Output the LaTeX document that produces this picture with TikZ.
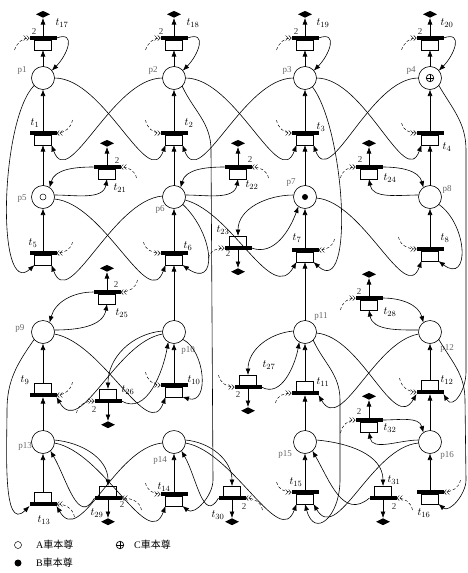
\documentclass[tikz,border=0pt]{standalone}
\usepackage{fontspec}
\setmainfont{Liberation Serif}
\newfontfamily\cjk{Noto Sans CJK TC}
\usepackage{tikz}
\usetikzlibrary{positioning,arrows.meta,calc,shapes.geometric}
\tikzset{
    every node/.style={font=\fontsize{9}{10}\selectfont},
    place/.style={circle,draw,fill=white,minimum size=23pt,inner sep=0pt,outer sep=0pt,line width=0.6pt},
    trbar/.style={rectangle,fill=black,minimum width=27pt,minimum height=4pt,inner sep=0pt,outer sep=0pt},
    trbox/.style={rectangle,draw,fill=white,minimum width=17pt,minimum height=10pt,inner sep=0pt,outer sep=0pt,line width=0.6pt},
    sink/.style={diamond,fill=black,aspect=2,minimum width=14pt,minimum height=7pt,inner sep=0pt},
    ctok/.style={circle,draw,minimum size=7.5pt,inner sep=0pt,line width=0.7pt,
        path picture={\draw[line width=0.7pt] (path picture bounding box.north) -- (path picture bounding box.south)
            (path picture bounding box.west) -- (path picture bounding box.east);}},
    plab/.style={text=black!60,inner sep=0pt},
    tlab/.style={inner sep=0pt,font=\fontsize{11}{12}\selectfont},
    wlab/.style={inner sep=0pt,text=black!80},
    flow/.style={-{Latex[length=6.5pt,width=5pt]},line width=0.6pt},
    ctrl/.style={densely dashed,line width=0.45pt,-{Straight Barb[length=2.5pt,width=5pt]Straight Barb[length=2.5pt,width=5pt]}},
    legtext/.style={anchor=west,inner sep=0pt,font=\fontsize{10}{11}\selectfont}
}
\newcommand{\trans}[3]{\node[trbar] (#1) at (#2) {};
    \node[trbox,#3=0pt of #1] (#1b) {};}
\newcommand{\ctrlin}[5]{\coordinate (#1c) at ($(#1.#2)+(#3)$);
    \draw[ctrl] (#1c) to[out=#4,in=#5] (#1.#2);}

\begin{document}
\begin{tikzpicture}[x=1pt,y=1pt]
    \useasboundingbox (0,0) rectangle (468,-573);
    % places
    \node[place] (p1) at (43,-78) {};
    \node[place] (p2) at (174,-78) {};
    \node[place] (p3) at (305,-78) {};
    \node[place] (p4) at (430,-78) {};
    \node[place] (p5) at (43,-197) {};
    \node[place] (p6) at (174,-197) {};
    \node[place] (p7) at (305,-197) {};
    \node[place] (p8) at (430,-197) {};
    \node[place] (p9) at (43,-332) {};
    \node[place] (p10) at (174,-332) {};
    \node[place] (p11) at (305,-332) {};
    \node[place] (p12) at (430,-332) {};
    \node[place] (p13) at (43,-442) {};
    \node[place] (p14) at (174,-442) {};
    \node[place] (p15) at (305,-442) {};
    \node[place] (p16) at (430,-442) {};
    \node[circle,draw,minimum size=6pt,inner sep=0pt,line width=0.5pt] (tokA) at (p5) {};
    \node[circle,fill,minimum size=6pt,inner sep=0pt] (tokB) at (p7) {};
    \node[ctok] (tokC) at (p4) {};
    % transitions
    \trans{t17}{43,-38}{below}
    \trans{t18}{174,-38}{below}
    \trans{t19}{305,-38}{below}
    \trans{t20}{430,-38}{below}
    \trans{t1}{43,-133}{below}
    \trans{t2}{174,-133}{below}
    \trans{t3}{305,-133}{below}
    \trans{t4}{430,-133}{below}
    \trans{t21}{107,-167}{below}
    \trans{t22}{238,-167}{below}
    \trans{t24}{369,-167}{below}
    \trans{t23}{238,-248}{above}
    \trans{t5}{43,-253}{below}
    \trans{t6}{174,-253}{below}
    \trans{t7}{305,-250}{below}
    \trans{t8}{430,-249}{below}
    \trans{t25}{107,-292}{below}
    \trans{t28}{369,-298}{below}
    \trans{t9}{43,-395}{above}
    \trans{t10}{174,-385}{below}
    \trans{t26}{108,-401}{above}
    \trans{t27}{248,-387}{above}
    \trans{t11}{305,-393}{above}
    \trans{t12}{430,-392}{above}
    \trans{t32}{369,-420}{below}
    \trans{t13}{43,-504}{above}
    \trans{t29}{108,-498}{above}
    \trans{t14}{174,-494}{below}
    \trans{t30}{232,-498}{above}
    \trans{t15}{305,-492}{below}
    \trans{t31}{383,-498}{above}
    \trans{t16}{430,-492}{below}
    % sinks
    \node[sink,above=18pt of t17] (s17) {};
    \node[sink,above=18pt of t18] (s18) {};
    \node[sink,above=18pt of t19] (s19) {};
    \node[sink,above=18pt of t20] (s20) {};
    \node[sink,above=18pt of t21] (s21) {};
    \node[sink,above=18pt of t22] (s22) {};
    \node[sink,above=18pt of t24] (s24) {};
    \node[sink,below=18pt of t23] (s23) {};
    \node[sink,above=18pt of t25] (s25) {};
    \node[sink,above=18pt of t28] (s28) {};
    \node[sink,below=18pt of t26] (s26) {};
    \node[sink,below=18pt of t27] (s27) {};
    \node[sink,above=18pt of t32] (s32) {};
    \node[sink,below=18pt of t29] (s29) {};
    \node[sink,below=18pt of t30] (s30) {};
    \node[sink,below=18pt of t31] (s31) {};
    % labels
    \node[plab] (n1) at (22,-70) {p1};
    \node[plab] (n2) at (153,-70) {p2};
    \node[plab] (n3) at (287,-70) {p3};
    \node[plab] (n4) at (411,-70) {p4};
    \node[plab] (n5) at (22,-199) {p5};
    \node[plab] (n6) at (160,-209) {p6};
    \node[plab] (n7) at (291,-183) {p7};
    \node[plab] (n8) at (447,-189) {p8};
    \node[plab] (n9) at (20,-328) {p9};
    \node[plab] (n10) at (188,-350) {p10};
    \node[plab] (n11) at (321,-316) {p11};
    \node[plab] (n12) at (447,-348) {p12};
    \node[plab] (n13) at (25,-446) {p13};
    \node[plab] (n14) at (160,-460) {p14};
    \node[plab] (n15) at (285,-454) {p15};
    \node[plab] (n16) at (447,-455) {p16};
    \node[tlab] (l17) at (62,-23) {$t_{17}$};
    \node[tlab] (l18) at (193,-23) {$t_{18}$};
    \node[tlab] (l19) at (323,-23) {$t_{19}$};
    \node[tlab] (l20) at (447,-23) {$t_{20}$};
    \node[tlab] (l1) at (35,-123) {$t_{1}$};
    \node[tlab] (l2) at (189,-123) {$t_{2}$};
    \node[tlab] (l3) at (321,-127) {$t_{3}$};
    \node[tlab] (l4) at (447,-147) {$t_{4}$};
    \node[tlab] (l21) at (120,-188) {$t_{21}$};
    \node[tlab] (l22) at (252,-185) {$t_{22}$};
    \node[tlab] (l23) at (223,-230) {$t_{23}$};
    \node[tlab] (l24) at (390,-178) {$t_{24}$};
    \node[tlab] (l5) at (33,-243) {$t_{5}$};
    \node[tlab] (l6) at (188,-246) {$t_{6}$};
    \node[tlab] (l7) at (297,-238) {$t_{7}$};
    \node[tlab] (l8) at (445,-238) {$t_{8}$};
    \node[tlab] (l25) at (122,-313) {$t_{25}$};
    \node[tlab] (l28) at (390,-312) {$t_{28}$};
    \node[tlab] (l9) at (25,-380) {$t_{9}$};
    \node[tlab] (l10) at (194,-380) {$t_{10}$};
    \node[tlab] (l26) at (128,-390) {$t_{26}$};
    \node[tlab] (l27) at (269,-365) {$t_{27}$};
    \node[tlab] (l11) at (323,-382) {$t_{11}$};
    \node[tlab] (l12) at (447,-380) {$t_{12}$};
    \node[tlab] (l32) at (390,-428) {$t_{32}$};
    \node[tlab] (l13) at (44,-520) {$t_{13}$};
    \node[tlab] (l29) at (97,-513) {$t_{29}$};
    \node[tlab] (l14) at (164,-487) {$t_{14}$};
    \node[tlab] (l30) at (218,-515) {$t_{30}$};
    \node[tlab] (l15) at (296,-482) {$t_{15}$};
    \node[tlab] (l31) at (394,-480) {$t_{31}$};
    \node[tlab] (l16) at (424,-513) {$t_{16}$};
    \node[wlab] (w17) at (34,-32) {2};
    \node[wlab] (w18) at (161,-32) {2};
    \node[wlab] (w19) at (296,-32) {2};
    \node[wlab] (w20) at (420,-32) {2};
    \node[wlab] (w21) at (117,-161) {2};
    \node[wlab] (w22) at (250,-160) {2};
    \node[wlab] (w24) at (360,-160) {2};
    \node[wlab] (w23) at (228,-254) {2};
    \node[wlab] (w25) at (116,-285) {2};
    \node[wlab] (w28) at (359,-292) {2};
    \node[wlab] (w26) at (94,-410) {2};
    \node[wlab] (w27) at (238,-395) {2};
    \node[wlab] (w32) at (359,-412) {2};
    \node[wlab] (w29) at (122,-505) {2};
    \node[wlab] (w30) at (244,-507) {2};
    \node[wlab] (w31) at (394,-507) {2};
    % top row
    \draw[flow] (p1) -- (t17b);
    \draw[flow] (p2) -- (t18b);
    \draw[flow] (p3) -- (t19b);
    \draw[flow] (p4) -- (t20b);
    \draw[flow] (t17) -- (s17);
    \draw[flow] (t18) -- (s18);
    \draw[flow] (t19) -- (s19);
    \draw[flow] (t20) -- (s20);
    \draw[flow] (t17.east) to[out=20,in=45,looseness=1.7] (p1.40);
    \draw[flow] (t18.east) to[out=20,in=45,looseness=1.7] (p2.40);
    \draw[flow] (t19.east) to[out=20,in=45,looseness=1.7] (p3.40);
    \draw[flow] (t20.east) to[out=20,in=45,looseness=1.7] (p4.40);
    % t1..t4
    \draw[flow] (t1) -- (p1);
    \draw[flow] (t2) -- (p2);
    \draw[flow] (t3) -- (p3);
    \draw[flow] (t4) -- (p4);
    \draw[flow] (p5) -- (t1b);
    \draw[flow] (p6) -- (t2b);
    \draw[flow] (p7) -- (t3b);
    \draw[flow] (p8) -- (t4b);
    \draw[flow] (p1.east) to[out=0,in=-110] (t2b.south west);
    \draw[flow] (p2.west) to[out=180,in=-70] (t1b.south east);
    \draw[flow] (p2.east) to[out=0,in=-110] (t3b.south west);
    \draw[flow] (p3.west) to[out=180,in=-70] (t2b.south east);
    \draw[flow] (p3.east) to[out=0,in=-110] (t4b.south west);
    \draw[flow] (p4.west) to[out=180,in=-70] (t3b.south east);
    % long side lines
    \draw[flow] (p1.220) .. controls (0,-120) and (-4,-300) .. (t5b.south west);
    \draw[flow] (p2.-45) to[out=-65,in=90] (211,-150) -- (213,-480) to[out=-90,in=-40] (t14b.south east);
    \draw[flow] (p3.-50) .. controls (345,-130) and (355,-300) .. (t7b.south east);
    \draw[flow] (p4.-40) to[out=-60,in=90] (466,-150) -- (466,-372) to[out=-90,in=-60,looseness=1.5] (t12.south east);
    \draw[flow] (p9.220) to[out=235,in=90] (7,-410) to[out=-90,in=-135] (t13.south west);
    \draw[flow] (p11.-45) to[out=-65,in=90] (340,-400) -- (340,-480) to[out=-90,in=-75,looseness=2.2] (t15b.south);
    \draw[flow] (p12.-40) to[out=-60,in=90] (465,-400) -- (466,-480) to[out=-90,in=-40] (t16b.south east);
    % t21..t24
    \draw[flow] (t21.west) to[out=180,in=75] (p5.55);
    \draw[flow] (p5.10) to[out=0,in=-100] (t21b.south);
    \draw[flow] (t21) -- (s21);
    \draw[flow] (t22.west) to[out=180,in=75] (p6.55);
    \draw[flow] (p6.10) to[out=0,in=-100] (t22b.south);
    \draw[flow] (t22) -- (s22);
    \draw[flow] (t24.east) to[out=0,in=105] (p8.125);
    \draw[flow] (p8.170) to[out=180,in=-80] (t24b.south);
    \draw[flow] (t24) -- (s24);
    \draw[flow] (p7.170) to[out=180,in=90] (t23b.north);
    \draw[flow] (t23.east) to[out=-20,in=-110] (p7.235);
    \draw[flow] (t23) -- (s23);
    % t5..t8
    \draw[flow] (t5) -- (p5);
    \draw[flow] (t6) -- (p6);
    \draw[flow] (t7) -- (p7);
    \draw[flow] (t8) -- (p8);
    \draw[flow] (p6.175) to[out=185,in=-70] (t5b.south east);
    \draw[flow] (p5.-10) to[out=-5,in=-110] (t6b.south west);
    \draw[flow] (p6.-40) .. controls (215,-235) and (218,-290) .. (t6b.south east);
    \draw[flow] (p10) -- (t6b);
    \draw[flow] (p6.-15) to[out=-15,in=-120] (t7b.south west);
    \draw[flow] (p11) -- (t7b);
    \draw[flow] (p7.-5) to[out=-5,in=-110] (t8b.south west);
    \draw[flow] (p8.-40) .. controls (468,-225) and (470,-285) .. (t8b.south east);
    % t25, t28
    \draw[flow] (t25.west) to[out=180,in=75] (p9.55);
    \draw[flow] (p9.10) to[out=0,in=-100] (t25b.south);
    \draw[flow] (t25) -- (s25);
    \draw[flow] (t28.east) to[out=0,in=105] (p12.125);
    \draw[flow] (p12.170) to[out=180,in=-80] (t28b.south);
    \draw[flow] (t28) -- (s28);
    % t9..t12, t26, t27
    \draw[flow] (t9b) -- (p9);
    \draw[flow] (t10) -- (p10);
    \draw[flow] (t11b) -- (p11);
    \draw[flow] (t12b) -- (p12);
    \draw[flow] (p13) -- (t9);
    \draw[flow] (p15) -- (t11);
    \draw[flow] (p16) -- (t12);
    \draw[flow] (p9.-10) to[out=-10,in=-110] (t10b.south west);
    \draw[flow] (p10.190) to[out=190,in=-60] (t9.south east);
    \draw[flow] (p10.175) to[out=185,in=90] (t26b.north);
    \draw[flow] (t26.east) to[out=-30,in=-100] (p10.240);
    \draw[flow] (t26) -- (s26);
    \draw[flow] (p10.-40) .. controls (205,-350) and (210,-405) .. (t10b.south east);
    \draw[flow] (p11.175) to[out=185,in=90] (t27b.north);
    \draw[flow] (t27.east) to[out=-30,in=-100] (p11.240);
    \draw[flow] (t27) -- (s27);
    \draw[flow] (p11.-5) to[out=-5,in=-120] (t12.south west);
    \draw[flow] (p12.190) to[out=190,in=-60] (t11.south east);
    % t32, bottom row
    \draw[flow] (t32.east) to[out=0,in=105] (p16.125);
    \draw[flow] (p16.170) to[out=180,in=-80] (t32b.south);
    \draw[flow] (t32) -- (s32);
    \draw[flow] (t13b) -- (p13);
    \draw[flow] (t14) -- (p14);
    \draw[flow] (t15) -- (p15);
    \draw[flow] (t16) -- (p16);
    \draw[flow] (p13.10) to[out=-5,in=90] (t29b.north);
    \draw[flow] (t29.west) to[out=-120,in=-60,looseness=1.3] (p13.-50);
    \draw[flow] (t29) -- (s29);
    \draw[flow] (p13.-5) to[out=-10,in=-110] (t14b.south west);
    \draw[flow] (p14.185) to[out=185,in=-60] (t13.south east);
    \draw[flow] (p14.10) to[out=-5,in=90] (t30b.north);
    \draw[flow] (t30.west) to[out=-120,in=-60,looseness=1.3] (p14.-50);
    \draw[flow] (t30) -- (s30);
    \draw[flow] (p14.-5) to[out=-10,in=-110] (t15b.south west);
    \draw[flow] (p15.10) to[out=-5,in=90] (t31b.north);
    \draw[flow] (t31.west) to[out=-140,in=-60,looseness=1.2] (p15.-50);
    \draw[flow] (t31) -- (s31);
    \draw[flow] (p16.185) to[out=185,in=-60] (t15b.south east);
    % control inputs
    \ctrlin{t17}{west}{-15,-12}{70}{180}
    \ctrlin{t18}{west}{-15,-12}{70}{180}
    \ctrlin{t19}{west}{-15,-12}{70}{180}
    \ctrlin{t20}{west}{-15,-12}{70}{180}
    \ctrlin{t1}{east}{16,13}{-100}{0}
    \ctrlin{t2}{west}{-15,13}{-80}{180}
    \ctrlin{t3}{west}{-15,13}{-80}{180}
    \ctrlin{t4}{west}{-15,10}{-80}{180}
    \ctrlin{t21}{east}{16,-11}{100}{0}
    \ctrlin{t22}{east}{17,-11}{100}{0}
    \ctrlin{t24}{west}{-15,-11}{80}{180}
    \ctrlin{t23}{west}{-16,-10}{80}{180}
    \ctrlin{t5}{east}{16,11}{-100}{0}
    \ctrlin{t6}{west}{-17,11}{-80}{180}
    \ctrlin{t7}{east}{16,11}{-100}{0}
    \ctrlin{t8}{west}{-18,12}{-80}{180}
    \ctrlin{t25}{east}{17,12}{-100}{0}
    \ctrlin{t28}{west}{-15,-12}{80}{180}
    \ctrlin{t9}{east}{16,13}{-100}{0}
    \ctrlin{t10}{west}{-15,13}{-80}{180}
    \ctrlin{t26}{west}{-18,-12}{80}{180}
    \ctrlin{t27}{west}{-16,12}{-80}{180}
    \ctrlin{t11}{west}{-16,-10}{80}{180}
    \ctrlin{t12}{west}{-17,14}{-80}{180}
    \ctrlin{t32}{west}{-15,-13}{80}{180}
    \ctrlin{t13}{east}{18,-13}{100}{0}
    \ctrlin{t29}{east}{20,-12}{100}{0}
    \ctrlin{t14}{west}{-15,11}{-80}{180}
    \ctrlin{t30}{east}{17,-12}{100}{0}
    \ctrlin{t15}{west}{-15,10}{-80}{180}
    \ctrlin{t31}{east}{16,-12}{100}{0}
    \ctrlin{t16}{east}{17,12}{-100}{0}
    % legend
    \node[circle,draw,minimum size=7pt,inner sep=0pt,line width=0.5pt] (legA) at (18,-545) {};
    \node[legtext] (legAt) at (36,-545) {A{\cjk 車本尊}};
    \node[ctok] (legC) at (120,-545) {};
    \node[legtext] (legCt) at (134,-545) {C{\cjk 車本尊}};
    \node[circle,fill,minimum size=7pt,inner sep=0pt] (legB) at (18,-563) {};
    \node[legtext] (legBt) at (36,-563) {B{\cjk 車本尊}};
\end{tikzpicture}
\end{document}
